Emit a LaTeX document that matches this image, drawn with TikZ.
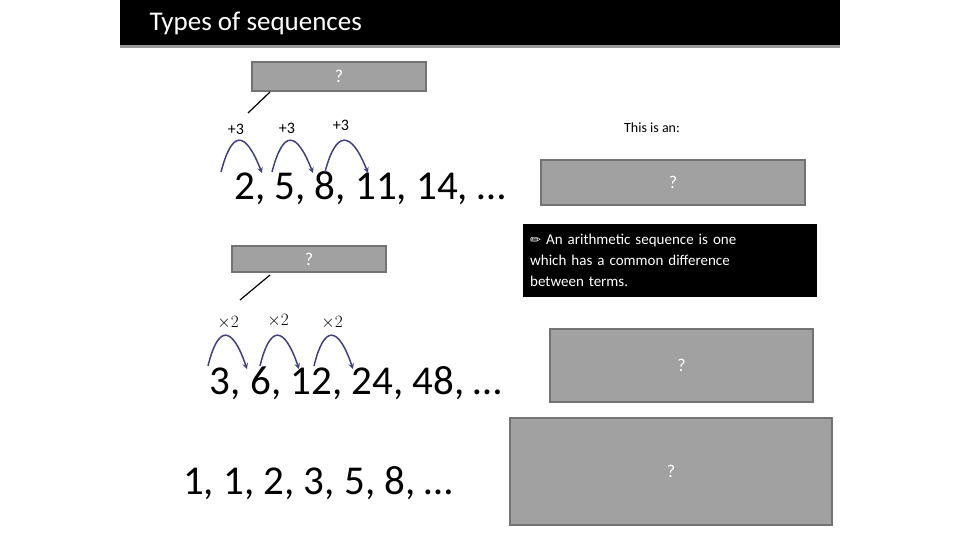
\documentclass[tikz,border=0pt]{standalone}
\usepackage{fontspec}
\setmainfont{Carlito}
\newfontfamily\djv{DejaVu Sans}
\begin{document}
\begin{tikzpicture}[x=1pt,y=-1pt,
  qbox/.style={draw=black!55,line width=1.2pt,fill=black!37,text=white,inner sep=0pt,font=\fontsize{18}{20}\selectfont},
  arc/.style={draw=black!45!blue!50!gray,line width=1.5pt,-stealth},
  lab/.style={font=\fontsize{16}{18}\selectfont,inner sep=0pt},
  seq/.style={font=\fontsize{41}{44}\selectfont,inner sep=0pt}]
\useasboundingbox (0,0) rectangle (960,540);
\fill (120,0) rectangle (840,45);
\fill[black!40] (120,45) rectangle (840,48);
\node[anchor=west,text=white,font=\fontsize{27}{30}\selectfont] (title) at (146,23) {Types of sequences};
% arithmetic
\node[qbox,minimum width=174pt,minimum height=29pt] (b1) at (339,76.5) {?};
\coordinate (p1) at (248,113);
\draw[line width=1.2pt] (270,92) -- (p1);
\node[lab] (l1) at (236,129) {+3};
\node[lab] (l2) at (287,128) {+3};
\node[lab] (l3) at (341,125) {+3};
\node[seq] (s1) at (370,188) {2, 5, 8, 11, 14, …};
\coordinate (a0) at (221,172); \coordinate (a1) at (262,173);
\coordinate (a2) at (272,172); \coordinate (a3) at (313,173);
\coordinate (a4) at (325,172); \coordinate (a5) at (368,173);
\draw[arc] (a0) .. controls (232,130) and (245,130) .. (a1);
\draw[arc] (a2) .. controls (283,130) and (296,130) .. (a3);
\draw[arc] (a4) .. controls (336,130) and (351,130) .. (a5);
\node[font=\fontsize{14}{16}\selectfont] (t1) at (652,128) {This is an:};
\node[qbox,minimum width=264pt,minimum height=45pt] (b2) at (673,182.5) {?};
\node[fill=black,text=white,anchor=north west,minimum width=294pt,minimum height=73pt,text width=280pt,align=left,inner sep=7pt,font=\fontsize{15}{21}\selectfont] (note) at (523,224) {{\djv\fontsize{13}{21}\selectfont ✏} An arithmetic sequence is one\\which has a common difference\\between terms.};
% geometric
\node[qbox,minimum width=154pt,minimum height=26pt] (b3) at (309,259) {?};
\coordinate (p2) at (240,300);
\draw[line width=1.2pt] (270,275) -- (p2);
\node[lab] (m1) at (228,323) {$\times 2$};
\node[lab] (m2) at (278,321) {$\times 2$};
\node[lab] (m3) at (332,323) {$\times 2$};
\node[seq] (s2) at (356,383) {3, 6, 12, 24, 48, …};
\coordinate (c0) at (208,366); \coordinate (c1) at (247,369);
\coordinate (c2) at (260,366); \coordinate (c3) at (299,369);
\coordinate (c4) at (314,366); \coordinate (c5) at (353,369);
\draw[arc] (c0) .. controls (218,325) and (232,325) .. (c1);
\draw[arc] (c2) .. controls (270,325) and (284,325) .. (c3);
\draw[arc] (c4) .. controls (324,325) and (338,325) .. (c5);
\node[qbox,minimum width=263pt,minimum height=73pt] (b4) at (681.5,365.5) {?};
% fibonacci
\node[seq] (s3) at (318,483) {1, 1, 2, 3, 5, 8, …};
\node[qbox,minimum width=322pt,minimum height=107pt] (b5) at (671,471.5) {?};
\end{tikzpicture}
\end{document}
